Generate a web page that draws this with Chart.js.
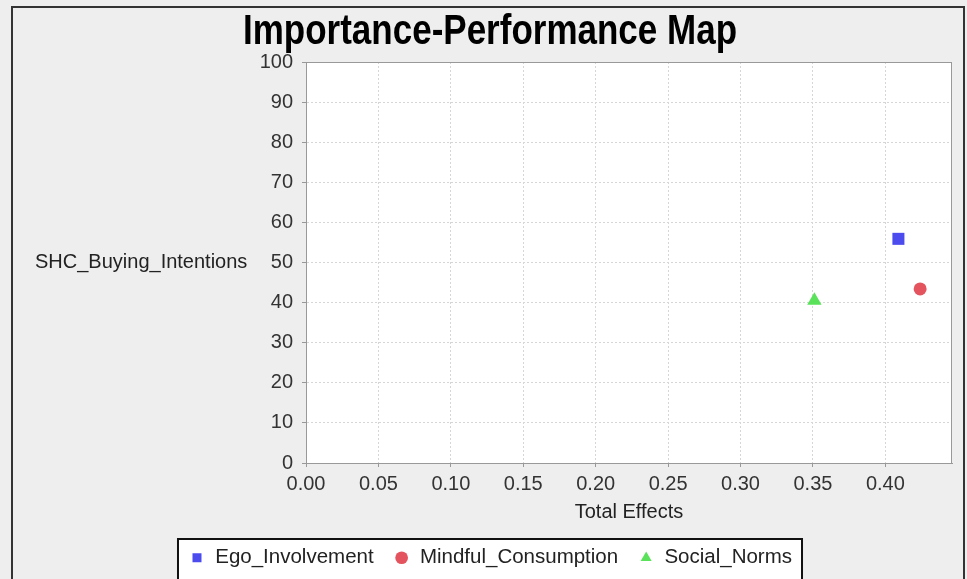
<!DOCTYPE html>
<html lang="en">
<head>
    <meta charset="UTF-8">
    <title>Importance-Performance Map</title>
    <script src="https://cdn.jsdelivr.net/npm/chart.js@4/dist/chart.umd.min.js"></script>
    <style>
        html, body {
            margin: 0;
            padding: 0;
            background-color: #eeeeee;
        }
        .contenedorGrafica {
            width: 967px;
            height: 579px;
            overflow: hidden;
        }
    </style>
</head>
<body>
    <div class="contenedorGrafica">
        <canvas id="ipmaChart" width="967" height="579"></canvas>
    </div>
    <script>
        // datos
        const constructos = ['Ego_Involvement', 'Mindful_Consumption', 'Social_Norms'];
        const efectosTotales = [0.409, 0.424, 0.351];
        const desempeno = [55.9, 43.4, 40.5];
        const colores = ['#4b4bee', '#e4545e', '#5ae25a'];
        const estilos = ['rect', 'circle', 'triangle'];
        const radios = [8.5, 6.5, 8.3];

        const tituloGrafica = 'Importance-Performance Map';
        const tituloX = 'Total Effects';
        const tituloY = 'SHC_Buying_Intentions';

        const fuente = '"Liberation Sans", Arial, sans-serif';

        const fondo = {
            id: 'fondo',
            beforeDraw(chart) {
                const ctx = chart.ctx;
                const area = chart.chartArea;
                ctx.save();
                ctx.fillStyle = '#eeeeee';
                ctx.fillRect(0, 0, chart.width, chart.height);
                // marco exterior
                ctx.strokeStyle = '#333333';
                ctx.lineWidth = 2;
                ctx.strokeRect(12, 7, 952, 600);
                // area del grafico
                ctx.fillStyle = '#ffffff';
                ctx.fillRect(area.left, area.top, area.right - area.left, area.bottom - area.top);
                // caja de la leyenda
                const cajas = chart.legend.legendHitBoxes;
                if (cajas && cajas.length) {
                    const izq = cajas[0].left - 11;
                    const der = cajas[cajas.length - 1].left + cajas[cajas.length - 1].width + 10;
                    const arriba = 539;
                    ctx.fillStyle = '#ffffff';
                    ctx.fillRect(izq, arriba, der - izq, 60);
                    ctx.strokeStyle = '#111111';
                    ctx.lineWidth = 2;
                    ctx.strokeRect(izq, arriba, der - izq, 60);
                }
                ctx.restore();
            },
            afterDraw(chart) {
                const ctx = chart.ctx;
                const area = chart.chartArea;
                ctx.save();
                ctx.strokeStyle = '#999999';
                ctx.lineWidth = 1;
                ctx.strokeRect(area.left + 0.5, area.top + 0.5, area.right - area.left - 1, area.bottom - area.top);
                // titulo del eje y en horizontal
                ctx.fillStyle = '#222222';
                ctx.font = '20px ' + fuente;
                ctx.textAlign = 'left';
                ctx.textBaseline = 'middle';
                ctx.fillText(tituloY, 35, 262);
                // titulo principal, un poco estirado en vertical como el original
                ctx.fillStyle = '#000000';
                ctx.font = 'bold 35px ' + fuente;
                ctx.textAlign = 'center';
                ctx.translate(490, 32);
                ctx.scale(1, 1.2);
                ctx.fillText(tituloGrafica, 0, 0);
                ctx.restore();
            }
        };

        const datasets = constructos.map((nombre, i) => ({
            label: nombre,
            data: [{ x: efectosTotales[i], y: desempeno[i] }],
            backgroundColor: colores[i],
            borderColor: colores[i],
            borderWidth: 0,
            pointStyle: estilos[i],
            pointRadius: radios[i],
            pointHoverRadius: radios[i]
        }));

        new Chart(document.getElementById('ipmaChart'), {
            type: 'scatter',
            data: { datasets: datasets },
            options: {
                responsive: false,
                animation: false,
                layout: { padding: { left: 29, right: 15, top: 62, bottom: 1 } },
                plugins: {
                    tooltip: { enabled: false },
                    title: { display: false },
                    legend: {
                        position: 'bottom',
                        labels: {
                            usePointStyle: true,
                            boxWidth: 16,
                            boxHeight: 9,
                            padding: 20,
                            color: '#222222',
                            font: { family: fuente, size: 20.5 }
                        }
                    }
                },
                scales: {
                    x: {
                        type: 'linear',
                        min: 0,
                        max: 0.446,
                        afterFit(scale) { scale.height = 64.5; },
                        ticks: {
                            stepSize: 0.05,
                            includeBounds: false,
                            padding: 5,
                            color: '#333333',
                            font: { family: fuente, size: 20 },
                            callback: v => Number(v).toFixed(2)
                        },
                        grid: { color: '#d6d6d6', tickColor: '#999999', tickLength: 4 },
                        border: { color: '#999999', width: 1, dash: [2, 2] },
                        title: {
                            display: true,
                            text: tituloX,
                            color: '#222222',
                            font: { family: fuente, size: 20, lineHeight: 1.2 },
                            padding: { top: 0, bottom: 3 }
                        }
                    },
                    y: {
                        min: 0,
                        max: 100,
                        afterFit(scale) { scale.width = 277; },
                        ticks: {
                            stepSize: 10,
                            padding: 9,
                            color: '#333333',
                            font: { family: fuente, size: 20 }
                        },
                        grid: { color: '#d6d6d6', tickColor: '#999999', tickLength: 4 },
                        border: { color: '#999999', width: 1, dash: [2, 2] }
                    }
                }
            },
            plugins: [fondo]
        });
    </script>
</body>
</html>
